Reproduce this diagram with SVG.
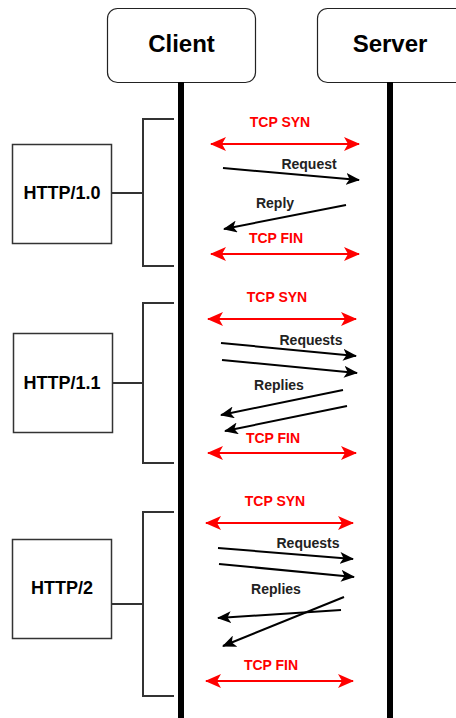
<svg xmlns="http://www.w3.org/2000/svg" width="456" height="718" viewBox="0 0 456 718">
<style>
.actor{fill:#fff;stroke:#222;stroke-width:1.2}
.proto{fill:#fff;stroke:#333;stroke-width:1.5}
.life{stroke:#000;stroke-width:6;fill:none}
.brk{stroke:#333;stroke-width:2;fill:none}
.red{stroke:#ff0000;stroke-width:2;fill:none;marker-start:url(#rh);marker-end:url(#rh)}
.blk{stroke:#000;stroke-width:2;fill:none;marker-end:url(#bh)}
.t-actor{font-family:"Liberation Sans",Arial,sans-serif;font-weight:bold;font-size:24px;fill:#000;text-anchor:middle}
.t-proto{font-family:"Liberation Sans",Arial,sans-serif;font-weight:bold;font-size:18px;fill:#000;text-anchor:middle}
.t-red{font-family:"Liberation Sans",Arial,sans-serif;font-weight:bold;font-size:14px;fill:#ff0000;text-anchor:middle}
.t-lbl{font-family:"Liberation Sans",Arial,sans-serif;font-weight:bold;font-size:14px;fill:#222;text-anchor:middle}
</style>
<defs>
<marker id="rh" viewBox="0 0 16 14" refX="15" refY="7" markerWidth="16" markerHeight="14" markerUnits="userSpaceOnUse" orient="auto-start-reverse">
<path d="M0,0 L16,7 L0,14 L4,7 Z" fill="#ff0000"/>
</marker>
<marker id="bh" viewBox="0 0 14 12" refX="13" refY="6" markerWidth="14" markerHeight="12" markerUnits="userSpaceOnUse" orient="auto">
<path d="M0,0 L14,6 L0,12 L3.5,6 Z" fill="#000"/>
</marker>
</defs>

<g id="client">
<rect class="actor" x="107.5" y="8.5" width="148" height="74" rx="10"/>
<text class="t-actor" x="181.5" y="52">Client</text>
</g>
<g id="server">
<rect class="actor" x="317.5" y="8.5" width="150" height="74" rx="10"/>
<text class="t-actor" x="390" y="52">Server</text>
</g>

<g id="lifelines">
<line class="life" x1="181" y1="82" x2="181" y2="718"/>
<line class="life" x1="390" y1="82" x2="390" y2="718"/>
</g>

<g id="http10">
<rect class="proto" x="12.5" y="144.5" width="99" height="99"/>
<text class="t-proto" x="62" y="199">HTTP/1.0</text>
</g>
<g id="http11">
<rect class="proto" x="13.5" y="333.5" width="99" height="99"/>
<text class="t-proto" x="62" y="389">HTTP/1.1</text>
</g>
<g id="http2">
<rect class="proto" x="12.5" y="539.5" width="99" height="99"/>
<text class="t-proto" x="62" y="594">HTTP/2</text>
</g>

<g id="connectors">
<path class="brk" d="M174,119 H143 V266 H174 M111,193 H143"/>
<path class="brk" d="M174,303 H143 V463 H174 M112,383 H143"/>
<path class="brk" d="M174,512 H143 V696 H174 M111,604 H143"/>

<line class="red" x1="211" y1="144" x2="359" y2="144"/>
<line class="blk" x1="223" y1="168" x2="359" y2="180"/>
<line class="blk" x1="346" y1="205" x2="224" y2="229"/>
<line class="red" x1="211" y1="254" x2="359" y2="254"/>

<line class="red" x1="208" y1="319" x2="356" y2="319"/>
<line class="blk" x1="221" y1="343" x2="356" y2="356"/>
<line class="blk" x1="222" y1="360" x2="357" y2="373"/>
<line class="blk" x1="343" y1="390" x2="221" y2="415"/>
<line class="blk" x1="347" y1="406" x2="225" y2="431"/>
<line class="red" x1="208" y1="453" x2="356" y2="453"/>

<line class="red" x1="206" y1="523" x2="353" y2="523"/>
<line class="blk" x1="218" y1="548" x2="353" y2="559"/>
<line class="blk" x1="219" y1="564" x2="354" y2="577"/>
<line class="blk" x1="341" y1="610" x2="218" y2="618"/>
<line class="blk" x1="344" y1="597" x2="223" y2="646"/>
<line class="red" x1="206" y1="681" x2="353" y2="681"/>
</g>

<g id="labels">
<text class="t-red" x="280" y="127">TCP SYN</text>
<text class="t-lbl" x="309" y="169">Request</text>
<text class="t-lbl" x="275" y="208">Reply</text>
<text class="t-red" x="276" y="243">TCP FIN</text>

<text class="t-red" x="277" y="302">TCP SYN</text>
<text class="t-lbl" x="311" y="345">Requests</text>
<text class="t-lbl" x="279" y="390">Replies</text>
<text class="t-red" x="273" y="443">TCP FIN</text>

<text class="t-red" x="275" y="506">TCP SYN</text>
<text class="t-lbl" x="308" y="548">Requests</text>
<text class="t-lbl" x="276" y="594">Replies</text>
<text class="t-red" x="271" y="670">TCP FIN</text>
</g>
</svg>
